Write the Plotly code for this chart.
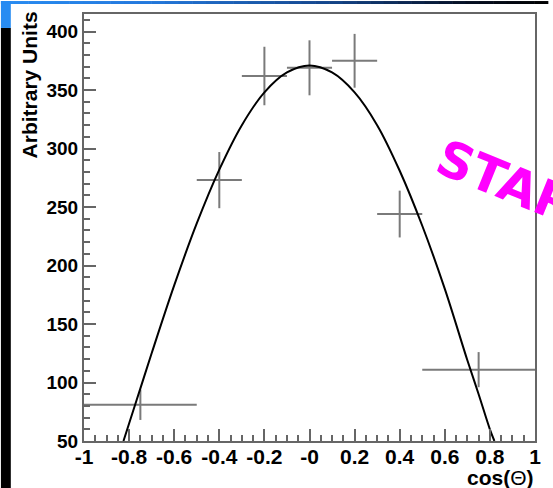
import plotly.graph_objects as go

# ---- data ----
bin_centers = [-0.75, -0.4, -0.2, 0.0, 0.2, 0.4, 0.75]
bin_halfwidths = [0.25, 0.1, 0.1, 0.1, 0.1, 0.1, 0.25]
counts = [81, 273, 362, 369, 375, 244, 111]
count_errors = [13, 24, 25, 23.5, 23, 20, 15]

curve_x = [-0.825, -0.8, -0.75, -0.7, -0.6, -0.5, -0.4, -0.3, -0.2, -0.1, 0.0,
           0.1, 0.2, 0.3, 0.4, 0.5, 0.6, 0.7, 0.75, 0.8, 0.82]
curve_y = [50, 65, 95, 125, 183, 236, 282, 320, 348, 365, 371,
           365, 348, 320, 281, 234, 180, 119, 90, 60, 50]

x_tickvals = [-1, -0.8, -0.6, -0.4, -0.2, 0, 0.2, 0.4, 0.6, 0.8, 1]
x_ticktext = ["-1", "-0.8", "-0.6", "-0.4", "-0.2", "-0", "0.2", "0.4", "0.6", "0.8", "1"]
y_tickvals = [50, 100, 150, 200, 250, 300, 350, 400]

# ---- geometry ----
W, H = 553, 488
L, R, T, B = 84, 13, 13, 47
PW, PH = W - L - R, H - T - B


def px2x(px):
    return (px - L) / PW


def py2y(py):
    return (H - B - py) / PH


fig = go.Figure()

fig.add_trace(go.Scatter(
    x=bin_centers, y=counts, mode="markers",
    marker=dict(size=1, color="rgba(0,0,0,0)"),
    error_x=dict(type="data", array=bin_halfwidths, width=0, thickness=2, color="#7a7a7a"),
    error_y=dict(type="data", array=count_errors, width=0, thickness=2, color="#7a7a7a"),
    showlegend=False, hoverinfo="skip",
))

fig.add_trace(go.Scatter(
    x=curve_x, y=curve_y, mode="lines",
    line=dict(color="black", width=2, shape="spline", smoothing=1.0),
    showlegend=False, hoverinfo="skip",
))

shapes = []
# left black strip
shapes.append(dict(type="rect", xref="paper", yref="paper",
                   x0=px2x(0), x1=px2x(10), y0=py2y(H), y1=py2y(27),
                   fillcolor="black", line=dict(width=0), layer="above"))
# left blue block
shapes.append(dict(type="rect", xref="paper", yref="paper",
                   x0=px2x(0), x1=px2x(10), y0=py2y(27), y1=py2y(0),
                   fillcolor="rgb(40,140,242)", line=dict(width=0), layer="above"))
# top gradient stripe
stops = [(0, (40, 140, 242)), (150, (35, 120, 220)), (330, (20, 70, 140)), (470, (5, 15, 35)), (553, (0, 0, 0))]
nseg = 40
for i in range(nseg):
    xa = W * i / nseg
    xb = W * (i + 1) / nseg
    xm = (xa + xb) / 2
    for j in range(len(stops) - 1):
        if stops[j][0] <= xm <= stops[j + 1][0]:
            f = (xm - stops[j][0]) / (stops[j + 1][0] - stops[j][0])
            c = [round(stops[j][1][k] + f * (stops[j + 1][1][k] - stops[j][1][k])) for k in range(3)]
            break
    shapes.append(dict(type="rect", xref="paper", yref="paper",
                       x0=px2x(xa), x1=px2x(xb + 0.5), y0=py2y(3), y1=py2y(0),
                       fillcolor=f"rgb({c[0]},{c[1]},{c[2]})", line=dict(width=0), layer="above"))

axis_color = "#666666"
fig.update_layout(
    width=W, height=H,
    margin=dict(l=L, r=R, t=T, b=B, pad=0),
    paper_bgcolor="white", plot_bgcolor="white",
    shapes=shapes,
    xaxis=dict(
        range=[-1, 1], tickmode="array", tickvals=x_tickvals, ticktext=x_ticktext,
        ticks="inside", ticklen=12, tickwidth=1.5, tickcolor=axis_color,
        minor=dict(tick0=-1, dtick=0.05, ticks="inside", ticklen=6, tickwidth=1.5, tickcolor=axis_color),
        showline=True, linecolor=axis_color, linewidth=2, mirror=True,
        showgrid=False, zeroline=False, ticklabelstandoff=-4,
        tickfont=dict(family="Liberation Sans", size=21, color="black", weight="bold"),
    ),
    yaxis=dict(
        range=[50, 415], tickmode="array", tickvals=y_tickvals,
        ticks="inside", ticklen=12, tickwidth=1.5, tickcolor=axis_color,
        minor=dict(tick0=50, dtick=10, ticks="inside", ticklen=6, tickwidth=1.5, tickcolor=axis_color),
        showline=True, linecolor=axis_color, linewidth=2, mirror=True,
        showgrid=False, zeroline=False,
        tickfont=dict(family="Liberation Sans", size=19, color="black", weight="bold"),
    ),
    annotations=[
        dict(text="Arbitrary Units", xref="paper", yref="paper",
             x=px2x(29), y=py2y(84), textangle=-90, showarrow=False,
             xanchor="center", yanchor="middle",
             font=dict(family="Liberation Sans", size=21, color="black", weight="bold")),
        dict(text="cos(<span style='font-weight:normal'>Θ</span>)", xref="paper", yref="paper",
             x=px2x(541), y=py2y(478), showarrow=False,
             xanchor="right", yanchor="middle",
             font=dict(family="Liberation Sans", size=21, color="black", weight="bold")),
        dict(text="STAR", xref="paper", yref="paper",
             x=px2x(510), y=py2y(181), textangle=22, showarrow=False,
             xanchor="center", yanchor="middle",
             font=dict(family="DejaVu Sans", size=50, color="#ff00ff", weight="bold")),
    ],
)

fig.write_html("out.html")
